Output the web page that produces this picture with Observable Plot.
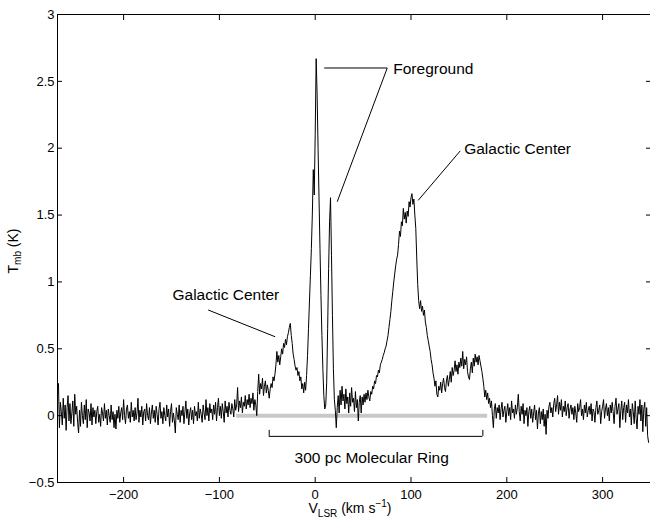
<!DOCTYPE html>
<html><head><meta charset="utf-8">
<script src="https://cdn.jsdelivr.net/npm/d3@7"></script>
<script src="https://cdn.jsdelivr.net/npm/@observablehq/plot@0.6"></script>
<style>body{margin:0;background:#fff} svg{display:block}</style>
</head><body><div id="chart"></div>
<script>
// Spectrum channels: velocity of first channel and channel spacing (km/s)
const vStart = -268;
const vStep = 1;
// Main-beam temperature T_mb (K), one value per km/s
const tmb = [
  0.24,-0.09,0.10,0.03,-0.07,0.13,-0.02,0.08,-0.11,0.06,0.15,-0.04,0.09,-0.06,0.02,0.11,-0.08,0.16,0.01,0.07,
  -0.05,-0.13,0.04,-0.08,0.10,0.00,-0.06,0.08,-0.03,0.12,-0.09,0.05,0.02,-0.04,0.09,-0.07,0.06,-0.01,0.04,-0.06,
  0.03,0.07,-0.05,0.01,-0.08,0.06,0.02,-0.04,0.09,-0.02,0.04,-0.07,0.05,0.00,-0.05,0.08,-0.03,0.03,-0.09,0.01,
  -0.10,0.04,-0.02,0.07,-0.05,0.02,0.06,-0.03,0.12,0.00,-0.06,0.05,0.08,-0.02,0.03,-0.05,0.10,-0.01,0.04,-0.04,
  0.06,-0.03,0.02,0.13,-0.05,0.04,-0.01,0.07,-0.07,0.03,0.05,-0.04,0.09,0.00,-0.03,0.06,-0.06,0.02,0.08,-0.02,
  0.04,-0.05,0.07,0.01,-0.07,0.05,0.10,-0.02,0.03,-0.06,0.06,0.00,-0.04,0.08,-0.01,0.05,-0.08,0.03,0.09,-0.05,
  0.02,-0.04,-0.13,0.06,0.01,-0.03,0.08,-0.05,0.04,0.00,0.07,-0.06,0.03,0.11,-0.02,0.05,-0.07,0.02,0.06,-0.03,
  0.04,-0.06,0.07,0.00,0.03,-0.04,0.10,-0.02,0.05,0.01,-0.05,0.08,0.02,-0.03,0.12,0.00,0.06,-0.04,0.09,0.02,
  0.05,-0.03,0.08,0.01,0.10,-0.04,0.06,0.13,0.00,0.07,-0.02,0.09,0.03,-0.05,0.11,0.02,0.07,-0.01,0.10,0.04,
  0.01,0.09,0.05,-0.01,0.12,0.04,0.08,0.21,0.03,0.11,0.06,0.14,0.02,0.10,0.07,0.15,0.05,0.12,0.08,0.16,
  0.06,0.13,0.09,0.17,0.04,0.12,0.08,0.00,0.18,0.31,0.16,0.24,0.20,0.28,0.15,0.22,0.26,0.17,0.23,0.19,
  0.13,0.20,0.24,0.21,0.29,0.26,0.31,0.38,0.48,0.40,0.45,0.38,0.44,0.50,0.46,0.54,0.51,0.57,0.53,0.59,
  0.62,0.66,0.69,0.60,0.54,0.46,0.42,0.37,0.34,0.36,0.30,0.33,0.26,0.29,0.20,0.24,0.17,0.25,0.19,0.30,
  0.45,0.65,0.85,1.05,1.25,1.50,1.84,1.65,2.10,2.67,2.40,2.00,1.62,1.25,0.90,0.60,0.35,0.15,0.05,0.08,
  0.25,0.65,1.10,1.45,1.63,1.20,0.75,0.35,0.12,0.04,-0.09,0.06,0.15,0.02,0.19,0.08,0.22,0.11,0.16,0.05,
  0.20,0.09,0.14,0.02,0.17,0.07,0.21,0.10,0.13,0.03,0.18,0.06,0.12,-0.04,0.10,0.15,0.02,0.14,0.08,0.16,
  0.10,0.17,0.12,0.19,0.14,0.11,0.18,0.16,0.22,0.20,0.26,0.24,0.30,0.29,0.34,0.32,0.38,0.40,0.42,0.45,
  0.47,0.50,0.52,0.56,0.60,0.66,0.72,0.78,0.86,0.93,1.00,1.06,1.12,1.17,1.20,1.28,1.38,1.34,1.45,1.42,
  1.55,1.47,1.52,1.44,1.53,1.49,1.60,1.56,1.63,1.66,1.58,1.62,1.50,1.40,1.18,0.98,0.86,0.80,0.86,0.78,
  0.82,0.75,0.79,0.70,0.66,0.60,0.56,0.52,0.48,0.42,0.38,0.32,0.28,0.22,0.26,0.16,0.14,0.22,0.19,0.25,
  0.17,0.24,0.28,0.21,0.18,0.26,0.30,0.22,0.27,0.33,0.25,0.36,0.30,0.34,0.41,0.33,0.38,0.31,0.40,0.36,
  0.43,0.37,0.48,0.35,0.42,0.38,0.44,0.33,0.29,0.27,0.35,0.40,0.32,0.43,0.37,0.46,0.40,0.44,0.38,0.45,
  0.41,0.37,0.33,0.28,0.22,0.14,0.19,0.12,0.17,0.09,0.13,0.06,0.11,0.00,-0.09,0.05,0.09,-0.02,0.06,0.02,
  0.08,-0.03,0.05,0.10,-0.01,0.04,0.07,-0.05,0.03,0.09,0.00,0.06,-0.03,0.11,0.02,0.05,-0.02,0.08,0.01,0.06,
  0.16,0.03,-0.04,0.07,0.01,0.09,-0.06,0.04,0.00,0.06,-0.08,0.03,0.07,-0.02,0.05,-0.05,0.02,0.08,-0.03,0.04,
  -0.10,0.02,0.06,-0.06,0.03,-0.03,0.05,-0.08,0.01,-0.14,0.04,-0.02,0.07,0.10,0.02,0.06,-0.01,0.09,0.13,0.03,
  0.08,0.15,0.01,0.10,0.04,0.12,-0.01,0.07,0.03,0.11,0.00,0.06,0.09,-0.02,0.05,0.08,0.01,0.06,-0.03,0.07,
  0.02,-0.05,0.09,0.03,0.06,0.12,0.00,0.05,-0.03,0.08,0.02,0.10,-0.01,0.04,0.07,0.01,0.09,-0.04,0.05,0.03,
  -0.05,0.06,0.11,0.01,0.04,0.08,-0.06,0.03,0.07,0.12,-0.02,0.05,0.09,0.00,0.06,-0.04,0.08,0.02,0.10,0.03,
  -0.06,0.07,0.13,0.01,0.05,0.09,-0.09,0.04,0.11,-0.03,0.06,0.10,-0.05,0.08,0.02,0.12,-0.01,0.05,-0.07,0.09,
  0.03,-0.06,0.11,-0.02,-0.10,0.07,0.01,0.12,-0.04,0.08,-0.12,0.05,0.10,-0.08,0.06,-0.15,-0.20
];
const xDomain = [-269, 350];
const yDomain = [-0.5, 3];
const xTicks = [-200, -100, 0, 100, 200, 300];
const yTicks = [-0.5, 0, 0.5, 1, 1.5, 2, 2.5, 3];

// Zero-baseline fit range (grey) and molecular-ring bracket
const baselineRange = [-82, 180];
const ringRange = [-48, 175];
const ringLevel = [-0.155, -0.11];

// Annotations
const labels = [
  {text: "Foreground", x: 81.5, y: 2.595},
  {text: "Galactic Center", x: 155.5, y: 1.995},
  {text: "Galactic Center", x: -149, y: 0.90}
];
const ringLabel = [{text: "300 pc Molecular Ring", x: 59, y: -0.315}];
const leaders = [
  {x1: 9.4, y1: 2.60, x2: 75.2, y2: 2.60},
  {x1: 75.2, y1: 2.60, x2: 23, y2: 1.60},
  {x1: 151.4, y1: 1.98, x2: 107.5, y2: 1.61},
  {x1: -111.7, y1: 0.79, x2: -41.8, y2: 0.59}
];

const spectrum = tmb.map((t, i) => ({v: vStart + i * vStep, t}));
const fmt = d => d < 0 ? "\u2212" + Math.abs(d) : String(d);
const font = "'Liberation Sans', Arial, Helvetica, sans-serif";

const chart = Plot.plot({
  width: 650,
  height: 518,
  marginLeft: 57,
  marginRight: 0,
  marginTop: 14,
  marginBottom: 36,
  style: {fontFamily: font, fontSize: "13px", background: "white", color: "black"},
  x: {domain: xDomain, axis: null},
  y: {domain: yDomain, axis: null},
  marks: [
    Plot.ruleY([0], {x1: baselineRange[0], x2: baselineRange[1], stroke: "#c8c8c8", strokeWidth: 4}),
    Plot.line(spectrum, {x: "v", y: "t", stroke: "black", strokeWidth: 1, clip: true}),
    Plot.ruleY([ringLevel[0]], {x1: ringRange[0], x2: ringRange[1], stroke: "black", strokeWidth: 1}),
    Plot.ruleX(ringRange, {y1: ringLevel[0], y2: ringLevel[1], stroke: "black", strokeWidth: 1}),
    Plot.link(leaders, {x1: "x1", y1: "y1", x2: "x2", y2: "y2", stroke: "black", strokeWidth: 1}),
    Plot.text(labels, {x: "x", y: "y", text: "text", textAnchor: "start", lineAnchor: "middle", fontSize: 15.5, fill: "black"}),
    Plot.text(ringLabel, {x: "x", y: "y", text: "text", textAnchor: "middle", lineAnchor: "middle", fontSize: 15.5, fill: "black"}),
    Plot.frame({stroke: "black", strokeWidth: 1}),
    // inward ticks
    Plot.axisX(xTicks, {anchor: "bottom", tickSize: 5, dy: -5, tickFormat: () => "", label: null}),
    Plot.axisX(xTicks, {anchor: "top", tickSize: 5, dy: 5, tickFormat: () => "", label: null}),
    Plot.axisY(yTicks, {anchor: "left", tickSize: 5, dx: 5, tickFormat: () => "", label: null}),
    Plot.axisY(yTicks, {anchor: "right", tickSize: 5, dx: -5, tickFormat: () => "", label: null}),
    // tick labels
    Plot.axisX(xTicks, {anchor: "bottom", tickSize: 0, tickPadding: 7, tickFormat: fmt, label: null, fontSize: 13}),
    Plot.axisY(yTicks, {anchor: "left", tickSize: 0, tickPadding: 3, tickFormat: fmt, label: null, fontSize: 13})
  ]
});

const svg = d3.select(chart);
// y-axis label: T_mb (K)
const yl = svg.append("text")
  .attr("transform", "translate(18,251) rotate(-90)")
  .attr("text-anchor", "middle")
  .attr("font-size", 14)
  .attr("font-family", font)
  .attr("fill", "black");
yl.append("tspan").text("T");
yl.append("tspan").attr("dy", 3).attr("font-size", 10).text("mb");
yl.append("tspan").attr("dy", -3).text(" (K)");

// x-axis label: V_LSR (km s^-1)
const xl = svg.append("text")
  .attr("transform", "translate(350,513)")
  .attr("text-anchor", "middle")
  .attr("font-size", 14)
  .attr("font-family", font)
  .attr("fill", "black");
xl.append("tspan").text("V");
xl.append("tspan").attr("dy", 4).attr("font-size", 10).text("LSR");
xl.append("tspan").attr("dy", -4).text(" (km s");
xl.append("tspan").attr("dy", -6).attr("font-size", 10).text("\u22121");
xl.append("tspan").attr("dy", 6).text(")");

document.getElementById("chart").appendChild(chart);
</script>
</body></html>
